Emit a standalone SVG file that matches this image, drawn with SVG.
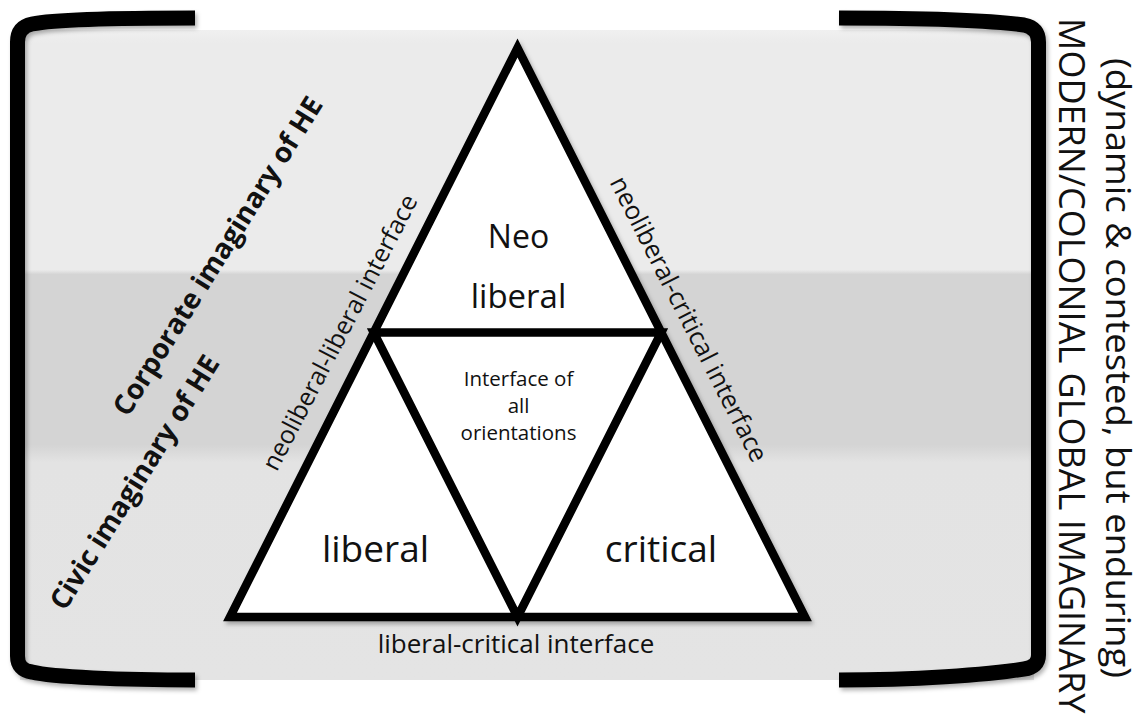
<svg xmlns="http://www.w3.org/2000/svg" width="1143" height="718" viewBox="0 0 1143 718">
  <defs>
    <linearGradient id="bands" gradientUnits="userSpaceOnUse" x1="0" y1="30" x2="0" y2="680">
      <stop offset="0" stop-color="#f0f0f0"/>
      <stop offset="0.02" stop-color="#ebebeb"/>
      <stop offset="0.369" stop-color="#ebebeb"/>
      <stop offset="0.376" stop-color="#d4d4d4"/>
      <stop offset="0.638" stop-color="#d4d4d4"/>
      <stop offset="0.665" stop-color="#e3e3e3"/>
      <stop offset="1" stop-color="#e4e4e4"/>
    </linearGradient>
    <filter id="shadow" x="-10%" y="-10%" width="120%" height="120%">
      <feDropShadow dx="2" dy="3" stdDeviation="2" flood-color="#000" flood-opacity="0.3"/>
    </filter>
  </defs>
  <style>
    .bracket { fill: none; stroke: #000; stroke-width: 15; stroke-linecap: butt; stroke-linejoin: round; }
    .tri { fill: #fff; stroke: #000; stroke-width: 8.5; stroke-linejoin: miter; }
    .t { font-family: "Open Sans", "Liberation Sans", sans-serif; fill: #111; }
    .bold { font-weight: bold; }
  </style>
  <rect width="1143" height="718" fill="#ffffff"/>

  <g id="panel">
    <rect x="20" y="30" width="1014" height="650" fill="url(#bands)"/>
  </g>

  <g id="bracket-left" filter="url(#shadow)">
    <path class="bracket" d="M195,18 C120,18 52,20 32,24 Q17.5,27 17.5,42 L17.5,656 Q17.5,670 32,672 C52,677 120,680 195,680"/>
  </g>
  <g id="bracket-right" filter="url(#shadow)">
    <path class="bracket" d="M839,18 C914,18 986,20 1024,25 Q1038.5,28 1038.5,42 L1038.5,655 Q1038.5,667 1024,669 C986,675 914,680 839,680"/>
  </g>

  <g id="connectors">
    <polygon class="tri" points="517.5,48 230,617 805,617" filter="url(#shadow)"/>
    <polygon class="tri" points="373.75,332.5 661.25,332.5 517.5,617"/>
  </g>

  <g id="node-neoliberal">
    <text class="t" x="518.5" y="248" font-size="32" text-anchor="middle">Neo</text>
    <text class="t" x="518.5" y="308" font-size="33" text-anchor="middle">liberal</text>
  </g>
  <g id="node-liberal">
    <text class="t" x="375.5" y="562" font-size="37" text-anchor="middle">liberal</text>
  </g>
  <g id="node-critical">
    <text class="t" x="661" y="562" font-size="37" text-anchor="middle">critical</text>
  </g>
  <g id="node-interface-all">
    <text class="t" x="518.5" y="386" font-size="20.5" text-anchor="middle">Interface of</text>
    <text class="t" x="518.5" y="413" font-size="20.5" text-anchor="middle">all</text>
    <text class="t" x="518.5" y="440" font-size="20.5" text-anchor="middle">orientations</text>
  </g>

  <g id="edge-labels">
    <text class="t" font-size="25" text-anchor="middle" transform="translate(347.5,336.5) rotate(-62.5)">neoliberal-liberal interface</text>
    <text class="t" font-size="25.5" text-anchor="middle" transform="translate(681,323) rotate(63)">neoliberal-critical interface</text>
    <text class="t" x="516" y="653" font-size="26" text-anchor="middle">liberal-critical interface</text>
  </g>

  <g id="imaginaries">
    <text class="t bold" font-size="28" transform="translate(128,418) rotate(-58)">Corporate imaginary of HE</text>
    <text class="t bold" font-size="28" transform="translate(65,612) rotate(-58)">Civic imaginary of HE</text>
  </g>

  <g id="global-imaginary">
    <text class="t" font-size="34" textLength="620" lengthAdjust="spacingAndGlyphs" transform="translate(1106,58) rotate(90)">(dynamic &amp; contested, but enduring)</text>
    <text class="t" font-size="36" transform="translate(1059,18) rotate(90)">MODERN/COLONIAL GLOBAL IMAGINARY</text>
  </g>
</svg>
